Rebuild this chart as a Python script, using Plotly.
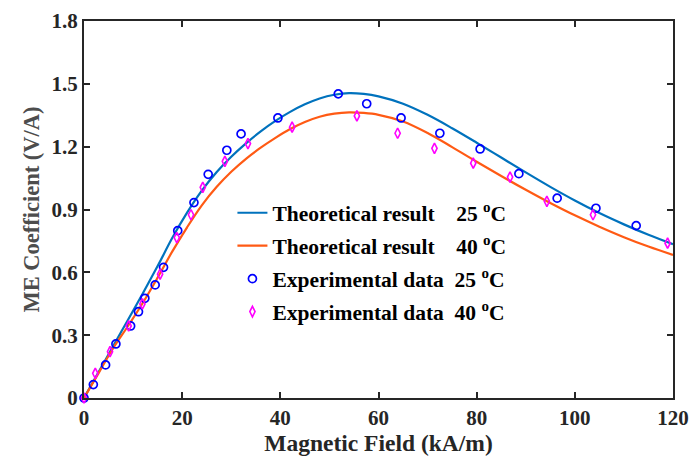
import plotly.graph_objects as go

# Theoretical curves
theo_x = [0, 3, 6, 9, 12, 15, 18, 21, 24, 27, 30, 33, 36, 39, 42, 45, 48, 51, 54, 57,
          60, 65, 70, 75, 80, 85, 90, 95, 100, 105, 110, 115, 120]
theo25_y = [0, 0.125, 0.25, 0.375, 0.5, 0.63, 0.765, 0.885, 0.99, 1.078, 1.152, 1.216,
            1.273, 1.323, 1.366, 1.402, 1.43, 1.448, 1.456, 1.452,
            1.44, 1.405, 1.352, 1.288, 1.219, 1.148, 1.077, 1.008, 0.943, 0.883, 0.829, 0.779, 0.734]
theo40_y = [0, 0.12, 0.24, 0.345, 0.455, 0.575, 0.7, 0.815, 0.92, 1.007, 1.08, 1.142,
            1.195, 1.242, 1.284, 1.318, 1.343, 1.358, 1.364, 1.361,
            1.352, 1.32, 1.265, 1.198, 1.128, 1.06, 0.994, 0.931, 0.872, 0.818, 0.768, 0.723, 0.683]

# Experimental data
exp25_x = [0, 1.9, 4.4, 6.5, 9.5, 11.1, 12.4, 14.5, 16.2, 19.1, 22.4, 25.3, 29.1, 32.0,
           39.5, 51.8, 57.6, 64.6, 72.5, 80.7, 88.6, 96.4, 104.3, 112.5]
exp25_y = [0, 0.064, 0.158, 0.258, 0.344, 0.412, 0.476, 0.540, 0.624, 0.799, 0.933, 1.068,
           1.183, 1.261, 1.337, 1.452, 1.405, 1.337, 1.264, 1.189, 1.071, 0.954, 0.906, 0.823]
exp40_x = [0, 2.3, 5.3, 9.1, 11.9, 15.5, 18.9, 21.8, 24.2, 28.7, 33.4, 42.4, 55.6,
           63.9, 71.4, 79.3, 86.8, 94.3, 103.7, 118.9]
exp40_y = [0, 0.118, 0.221, 0.344, 0.449, 0.591, 0.766, 0.875, 1.006, 1.130, 1.215, 1.293, 1.347,
           1.264, 1.192, 1.121, 1.055, 0.939, 0.875, 0.739]

x_ticks = [0, 20, 40, 60, 80, 100, 120]
y_ticks = [0, 0.3, 0.6, 0.9, 1.2, 1.5, 1.8]
y_ticktext = ["0", "0.3", "0.6", "0.9", "1.2", "1.5", "1.8"]

names = [
    "Theoretical result\u00a0\u00a0\u00a0\u00a025 <sup>o</sup>C",
    "Theoretical result\u00a0\u00a0\u00a0\u00a040 <sup>o</sup>C",
    "Experimental data\u00a0\u00a025 <sup>o</sup>C",
    "Experimental data\u00a0\u00a040 <sup>o</sup>C",
]

BLUE_LINE = "#0072BD"
ORANGE_LINE = "#FF5A14"
FF = "Liberation Serif"

fig = go.Figure()
fig.add_trace(go.Scatter(x=theo_x, y=theo25_y, mode="lines", name=names[0],
                         line=dict(color=BLUE_LINE, width=2.2, shape="spline"),
                         legendgroup="a"))
fig.add_trace(go.Scatter(x=theo_x, y=theo40_y, mode="lines", name=names[1],
                         line=dict(color=ORANGE_LINE, width=2.2, shape="spline"),
                         legendgroup="b"))
fig.add_trace(go.Scatter(x=exp25_x, y=exp25_y, mode="markers", name=names[2],
                         marker=dict(symbol="circle-open", size=8, color="#0000FF",
                                     line=dict(width=1.7, color="#0000FF")),
                         cliponaxis=False, legendgroup="c"))
fig.add_trace(go.Scatter(x=exp40_x, y=exp40_y, mode="markers", name=names[3],
                         marker=dict(symbol="diamond-tall-open", size=7.5, color="#FF00FF",
                                     line=dict(width=1.6, color="#FF00FF")),
                         cliponaxis=False, legendgroup="d"))

axis_common = dict(
    showline=True, linecolor="#262626", linewidth=2, mirror="ticks",
    ticks="inside", ticklen=6, tickwidth=2, tickcolor="#262626",
    showgrid=False, zeroline=False, automargin=False,
    tickfont=dict(family=FF, size=21, color="#262626", weight="bold"),
)

fig.update_layout(
    width=691, height=456,
    margin=dict(l=84, r=18, t=21, b=58),
    paper_bgcolor="white", plot_bgcolor="white",
    font=dict(family=FF, size=21, color="#262626"),
    xaxis=dict(range=[0, 120], tickvals=x_ticks,
               title=dict(text="Magnetic Field (kA/m)", standoff=2,
                          font=dict(family=FF, size=23.5, color="#262626", weight="bold")),
               **axis_common),
    yaxis=dict(range=[0, 1.8], tickvals=y_ticks, ticktext=y_ticktext,
               title=dict(text="ME Coefficient (V/A)", standoff=6,
                          font=dict(family=FF, size=22.5, color="#4d4d4d", weight="bold")),
               **axis_common),
    legend=dict(x=0.252, y=0.36, xanchor="left", yanchor="middle",
                bgcolor="rgba(0,0,0,0)", tracegroupgap=2, itemwidth=30,
                font=dict(family=FF, size=21.5, color="black", weight="bold")),
    showlegend=True,
)

fig.write_html("out.html")
